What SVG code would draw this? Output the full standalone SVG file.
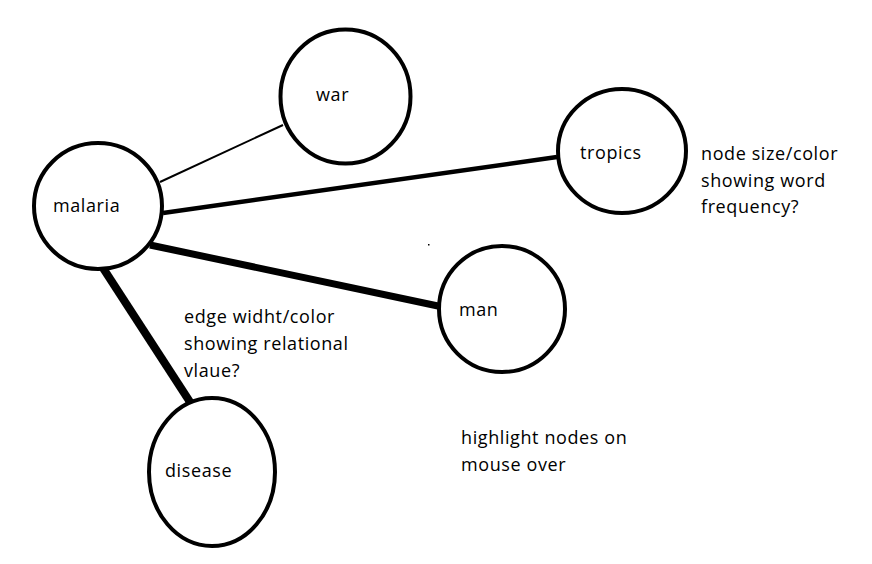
<svg xmlns="http://www.w3.org/2000/svg" width="872" height="564" viewBox="0 0 872 564">
<style>
.node ellipse{fill:#fff;stroke:#000;stroke-width:4}
text{font-family:"Open Sans","Noto Sans","DejaVu Sans",sans-serif;font-size:18px;letter-spacing:0.6px;fill:#000}
.edge{stroke:#000;stroke-linecap:butt;fill:none}
</style>
<rect width="872" height="564" fill="#fff"/>
<g id="connectors">
<line class="edge" x1="160" y1="182" x2="283" y2="125" stroke-width="2"/>
<line class="edge" x1="163" y1="213" x2="557" y2="157" stroke-width="4.5"/>
<line class="edge" x1="150" y1="245" x2="438" y2="306" stroke-width="7"/>
<line class="edge" x1="103" y1="268" x2="190" y2="402" stroke-width="8"/>
</g>
<g id="node-malaria" class="node"><ellipse cx="98" cy="206" rx="64" ry="63"/><text x="53" y="212">malaria</text></g>
<g id="node-war" class="node"><ellipse cx="345.5" cy="96.5" rx="65" ry="67"/><text x="316" y="101">war</text></g>
<g id="node-tropics" class="node"><ellipse cx="622" cy="151" rx="64" ry="62"/><text x="580" y="159">tropics</text></g>
<g id="node-man" class="node"><ellipse cx="502" cy="309" rx="63" ry="63"/><text x="459" y="316">man</text></g>
<g id="node-disease" class="node"><ellipse cx="212" cy="472" rx="63" ry="74"/><text x="165" y="477">disease</text></g>
<g id="notes">
<text x="701" y="160">node size/color</text>
<text x="701" y="187">showing word</text>
<text x="701" y="213">frequency?</text>
<text x="184" y="323">edge widht/color</text>
<text x="184" y="350">showing relational</text>
<text x="184" y="377">vlaue?</text>
<text x="461" y="444">highlight nodes on</text>
<text x="461" y="471">mouse over</text>
</g>
<rect x="428" y="244" width="1.5" height="1.5" fill="#000"/>
</svg>
